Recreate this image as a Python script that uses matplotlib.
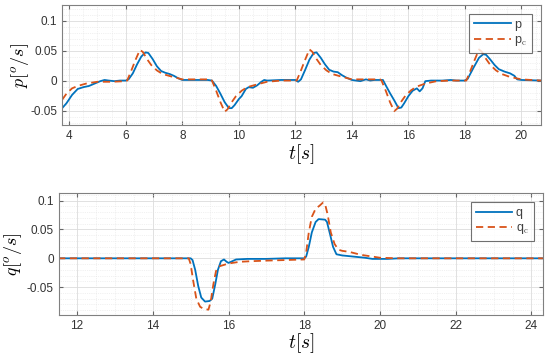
import matplotlib
matplotlib.use("Agg")
import matplotlib.pyplot as plt
import numpy as np
from matplotlib.ticker import MultipleLocator

plt.rcParams['font.family'] = ['Liberation Sans', 'DejaVu Sans']
plt.rcParams['mathtext.fontset'] = 'cm'

# roll rate p and command p_c (top)
t_p = [3.75, 3.9, 4.1, 4.3, 4.5, 4.7, 4.9, 5.1, 5.25, 5.4, 5.6, 5.8, 6.0, 6.1, 6.25, 6.4, 6.55,
       6.7, 6.8, 6.95, 7.1, 7.25, 7.4, 7.55, 7.7, 7.85, 8.0, 8.5, 8.9, 9.05, 9.2, 9.35, 9.5,
       9.65, 9.75, 9.85, 10.0, 10.1, 10.25, 10.35, 10.5, 10.65, 10.8, 10.9, 11.0, 11.5, 12.0,
       12.1, 12.2, 12.35, 12.5, 12.65, 12.75, 12.9, 13.05, 13.2, 13.35, 13.5, 13.65, 13.8,
       14.0, 14.3, 14.5, 14.65, 14.8, 15.1, 15.2, 15.35, 15.5, 15.65, 15.75, 15.85, 16.0,
       16.15, 16.3, 16.4, 16.5, 16.6, 16.8, 17.2, 17.5, 17.7, 18.0, 18.1, 18.3, 18.5, 18.65,
       18.75, 18.9, 19.05, 19.2, 19.4, 19.6, 19.75, 19.85, 20.0, 20.7]
p = [-0.046, -0.038, -0.024, -0.014, -0.011, -0.009, -0.005, -0.001, 0.001, 0.0, -0.001, 0.0,
     0.0, 0.002, 0.012, 0.027, 0.040, 0.047, 0.046, 0.036, 0.024, 0.016, 0.013, 0.011, 0.008,
     0.004, 0.001, 0.001, 0.001, 0.0, -0.009, -0.022, -0.036, -0.046, -0.046, -0.041, -0.031,
     -0.026, -0.014, -0.011, -0.012, -0.008, -0.002, 0.001, 0.0, 0.001, 0.001, -0.002, 0.002,
     0.018, 0.035, 0.046, 0.047, 0.038, 0.027, 0.018, 0.015, 0.014, 0.009, 0.005, 0.001,
     -0.001, 0.002, 0.0, 0.001, 0.001, -0.008, -0.021, -0.033, -0.046, -0.045, -0.038, -0.026,
     -0.017, -0.013, -0.018, -0.013, -0.001, 0.0, 0.0, 0.001, 0.0, 0.0, 0.003, 0.021, 0.038,
     0.044, 0.043, 0.035, 0.026, 0.019, 0.015, 0.012, 0.008, 0.002, 0.001, 0.0]

t_pc = [3.75, 3.9, 4.1, 4.3, 4.6, 5.0, 5.5, 6.0, 6.05, 6.2, 6.35, 6.5, 6.6, 6.75, 6.9, 7.1, 7.3,
        7.6, 8.0, 8.5, 9.0, 9.05, 9.2, 9.35, 9.5, 9.6, 9.75, 9.9, 10.1, 10.3, 10.6, 11.0, 11.5,
        12.0, 12.05, 12.2, 12.35, 12.5, 12.6, 12.75, 12.9, 13.1, 13.3, 13.6, 14.0, 14.5, 15.0,
        15.05, 15.2, 15.35, 15.5, 15.6, 15.75, 15.9, 16.1, 16.3, 16.6, 17.0, 17.5, 18.0, 18.05,
        18.2, 18.35, 18.5, 18.6, 18.75, 18.9, 19.1, 19.3, 19.6, 20.0, 20.7]
p_c = [-0.032, -0.022, -0.013, -0.009, -0.005, -0.002, -0.002, -0.001, 0.0, 0.017, 0.035,
       0.051, 0.048, 0.036, 0.026, 0.017, 0.011, 0.007, 0.002, 0.002, 0.002, 0.0, -0.017,
       -0.036, -0.052, -0.048, -0.036, -0.026, -0.017, -0.011, -0.007, -0.002, 0.0, 0.0, 0.0,
       0.017, 0.035, 0.052, 0.048, 0.036, 0.026, 0.017, 0.011, 0.007, 0.002, 0.002, 0.002, 0.0,
       -0.017, -0.036, -0.051, -0.047, -0.035, -0.025, -0.016, -0.010, -0.005, -0.001, 0.0,
       0.0, 0.0, 0.017, 0.035, 0.052, 0.048, 0.036, 0.026, 0.017, 0.011, 0.006, 0.002, 0.0]

# pitch rate q and command q_c (bottom)
t_q = [11.5, 15.0, 15.05, 15.12, 15.2, 15.28, 15.38, 15.5, 15.57, 15.65, 15.72, 15.8, 15.88,
       15.95, 16.0, 16.1, 16.2, 16.5, 17.0, 17.5, 18.0, 18.05, 18.12, 18.2, 18.3, 18.38, 18.55,
       18.6, 18.68, 18.76, 18.85, 19.0, 19.3, 19.6, 19.8, 20.2, 20.5, 24.3]
q = [0.0, 0.0, -0.003, -0.02, -0.048, -0.068, -0.075, -0.074, -0.07, -0.045, -0.02, -0.005,
     -0.002, -0.006, -0.008, -0.005, -0.002, -0.001, -0.001, 0.0, 0.0, 0.003, 0.02, 0.045,
     0.063, 0.068, 0.067, 0.063, 0.042, 0.02, 0.007, 0.005, 0.003, 0.001, -0.001, -0.001, 0.0,
     0.0]

t_qc = [11.5, 14.95, 15.0, 15.07, 15.15, 15.25, 15.35, 15.47, 15.53, 15.6, 15.67, 15.75, 15.9,
        16.0, 16.3, 16.6, 17.0, 17.5, 18.0, 18.05, 18.12, 18.2, 18.3, 18.4, 18.5, 18.55, 18.62,
        18.7, 18.8, 18.9, 19.0, 19.2, 19.5, 19.8, 20.0, 20.5, 24.3]
q_c = [0.0, 0.0, -0.01, -0.04, -0.07, -0.084, -0.088, -0.089, -0.075, -0.045, -0.022, -0.014,
       -0.011, -0.009, -0.006, -0.005, -0.004, -0.003, -0.002, 0.01, 0.045, 0.072, 0.086,
       0.091, 0.097, 0.094, 0.075, 0.045, 0.025, 0.015, 0.013, 0.011, 0.006, 0.003, 0.001, 0.0,
       0.0]

blue = '#0072BD'
orange = '#D95319'

fig = plt.figure(figsize=(5.5, 3.59), dpi=100)
ax1 = fig.add_axes([0.113, 0.652, 0.871, 0.334])
ax2 = fig.add_axes([0.107, 0.123, 0.880, 0.339])


def style(ax, xlim, ylim, xlab, ylab, ylab_x):
    ax.set_xlim(xlim)
    ax.set_ylim(ylim)
    ax.xaxis.set_major_locator(MultipleLocator(2))
    ax.xaxis.set_minor_locator(MultipleLocator(0.5))
    ax.yaxis.set_major_locator(MultipleLocator(0.05))
    ax.yaxis.set_minor_locator(MultipleLocator(0.01))
    ax.set_yticks([-0.05, 0, 0.05, 0.1])
    ax.set_yticklabels(['-0.05', '0', '0.05', '0.1'])
    ax.grid(which='major', color='#dcdcdc', linewidth=0.6)
    ax.grid(which='minor', color='#e4e4e4', linewidth=0.5, linestyle=':')
    ax.set_axisbelow(True)
    ax.tick_params(which='both', direction='in', top=True, right=True, labelsize=8.5,
                   colors='0.4', labelcolor='0.2')
    ax.tick_params(which='minor', length=0)
    ax.tick_params(which='major', length=3)
    for s in ax.spines.values():
        s.set_color('0.5')
        s.set_linewidth(0.8)
    ax.set_xlabel(xlab, fontsize=14, labelpad=0)
    ax.set_ylabel(ylab, fontsize=13)
    ax.yaxis.set_label_coords(ylab_x, 0.5)


ax1.plot(t_p, p, color=blue, linewidth=1.3, label='p')
ax1.plot(t_pc, p_c, color=orange, linewidth=1.3, linestyle=(0, (4, 2.5)), label=r'p$_\mathrm{c}$')
style(ax1, (3.75, 20.7), (-0.074, 0.126), r'$t[s]$', r'$p[^o/s]$', -0.064)

ax2.plot(t_q, q, color=blue, linewidth=1.3, label='q')
ax2.plot(t_qc, q_c, color=orange, linewidth=1.3, linestyle=(0, (4, 2.5)), label=r'q$_\mathrm{c}$')
style(ax2, (11.52, 24.3), (-0.098, 0.113), r'$t[s]$', r'$q[^o/s]$', -0.071)

for ax in (ax1, ax2):
    leg = ax.legend(loc='upper right', fontsize=9, frameon=True, fancybox=False,
                    edgecolor='0.3', handlelength=2.9, handletextpad=0.3,
                    borderpad=0.4, labelspacing=0.25, borderaxespad=0.7)
    leg.get_frame().set_linewidth(0.8)
    for txt in leg.get_texts():
        txt.set_color('0.25')

fig.savefig('out.png', dpi=100)
